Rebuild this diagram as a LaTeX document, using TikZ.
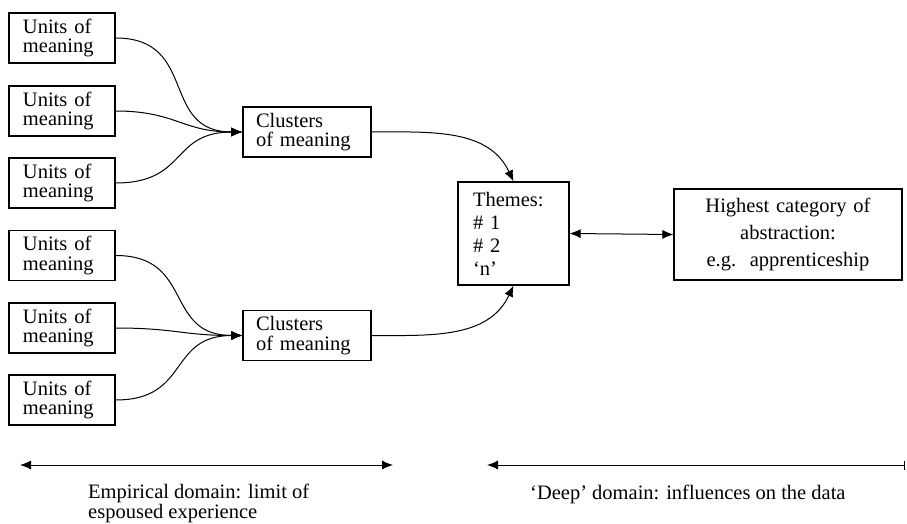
\documentclass[tikz,border=0pt]{standalone}
\usepackage{fontspec}
\setmainfont{Liberation Serif}
\usetikzlibrary{arrows.meta}
\begin{document}
\begin{tikzpicture}[x=1pt,y=-1pt,
  font=\fontsize{20.5}{19.5}\selectfont,
  box/.style={draw,line width=1.1pt,inner ysep=0pt},
  unitbox/.style={box,text width=78pt,inner xsep=14pt,align=left,minimum height=50pt},
  clusterbox/.style={box,text width=102pt,inner xsep=13pt,align=left,minimum height=50pt},
  tip/.style={Latex[length=11pt,width=9pt]},
  conn/.style={line width=1pt,-{Latex[length=11pt,width=9pt]}},
  dbl/.style={line width=1pt,{Latex[length=11pt,width=9pt]}-{Latex[length=11pt,width=9pt]}},
  lbl/.style={inner sep=0pt}
]
\useasboundingbox (0,0) rectangle (907,524);
% upper group
\node[unitbox] (u1) at (62,38) {Units of\\meaning};
\node[unitbox] (u2) at (62,111) {Units of\\meaning};
\node[unitbox] (u3) at (62,183) {Units of\\meaning};
\node[clusterbox] (c1) at (307,132) {Clusters\\of meaning};
% lower group
\node[unitbox] (u4) at (62,255.5) {Units of\\meaning};
\node[unitbox] (u5) at (62,328) {Units of\\meaning};
\node[unitbox] (u6) at (62,400) {Units of\\meaning};
\node[clusterbox] (c2) at (307,335.5) {Clusters\\of meaning};
% themes
\node[box,text width=81pt,inner xsep=15pt,align=left,minimum height=103pt,
  font=\fontsize{20.5}{23}\selectfont] (th) at (513.5,233.5) {Themes:\\\# 1\\\# 2\\‘n’};
\node[box,text width=214pt,inner xsep=7pt,align=center,minimum height=91pt,
  font=\fontsize{20.5}{27}\selectfont] (hi) at (788,234.5) {Highest category of\\abstraction:\\e.g.\ \ apprenticeship};
% connectors
\draw[conn] (u1.east) to[out=0,in=180,looseness=1.35] (c1.west);
\draw[conn] (u2.east) to[out=0,in=180,looseness=1.2] (c1.west);
\draw[conn] (u3.east) to[out=0,in=180,looseness=1.35] (c1.west);
\draw[conn] (u4.east) to[out=0,in=180,looseness=1.35] (c2.west);
\draw[conn] (u5.east) to[out=0,in=180,looseness=1.2] (c2.west);
\draw[conn] (u6.east) to[out=0,in=180,looseness=1.35] (c2.west);
\draw[conn] (c1.east) to[out=0,in=115] (th.north);
\draw[conn] (c2.east) to[out=0,in=-115] (th.south);
\draw[dbl] (th.east) -- (hi.west);
% domain arrows
\coordinate (a1) at (20,465);
\coordinate (a2) at (393,465);
\coordinate (b1) at (487,465);
\coordinate (b2) at (905,465);
\draw[dbl] (a1) -- (a2);
\draw[line width=1pt,{Latex[length=11pt,width=9pt]}-{Bar[width=9pt]}] (b1) -- (b2);
\node[lbl,align=left,anchor=base west] (e1) at (88,518) {Empirical domain: limit of\\espoused experience};
\node[lbl,anchor=base west] (d1) at (530,499) {‘Deep’ domain: influences on the data};
\end{tikzpicture}
\end{document}
